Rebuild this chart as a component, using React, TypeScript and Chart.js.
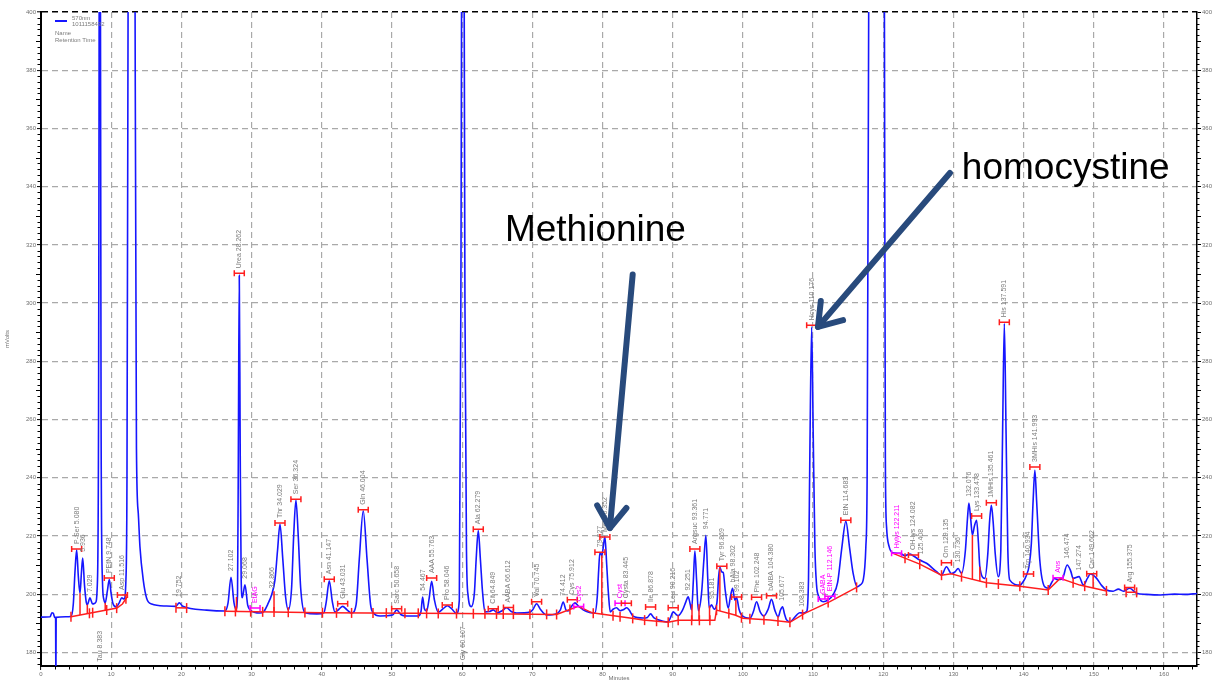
import React, { useEffect, useRef } from 'react';
import { Chart, registerables } from 'chart.js';

Chart.register(...registerables);

const FONT = '"Liberation Sans", Arial, Helvetica, sans-serif';
const BLUE = '#1616ff';
const RED = '#ff1e1e';
const MAGENTA = '#ff00ff';
const GRID = '#a9a9a9';
const LABEL_GREY = '#7c7c7c';
const AXIS_TXT = '#6f6f6f';
const NAVY = '#284a7c';

// ---- chromatogram trace (retention time in minutes, signal in mVolts) ----
const traceTime = [
  0, 1.3, 1.55, 1.75, 1.95, 2.08, 2.12, 2.16, 3.5, 4.27,
  4.6, 4.85, 5.08, 5.32, 5.56, 5.75, 5.94, 6.2, 6.45, 6.6,
  6.98, 7.35, 7.75, 8.05, 8.2, 8.38, 8.56, 8.75, 8.95, 9.15,
  9.45, 9.73, 10.0, 10.25, 10.7, 11.1, 11.5, 11.85, 12.1, 12.25,
  12.45, 12.9, 13.35, 13.6, 13.86, 14.1, 14.57, 15.05, 15.77, 17.9,
  19.2, 19.7, 20.2, 23.6, 26.2, 26.65, 27.07, 27.5, 27.78, 28.0,
  28.12, 28.25, 28.38, 28.52, 28.68, 29.06, 29.45, 29.8, 31.2, 31.67,
  32.3, 32.86, 33.33, 33.7, 34.05, 34.45, 34.85, 35.23, 35.7, 36.0,
  36.32, 36.65, 37.0, 37.6, 39.3, 40.3, 40.65, 41.07, 41.5, 41.88,
  42.45, 42.98, 43.6, 44.25, 44.9, 45.35, 45.91, 46.45, 46.95, 47.34,
  48.3, 50.1, 50.67, 51.3, 52.1, 53.75, 54.15, 54.37, 54.62, 54.94,
  55.3, 55.66, 56.05, 56.6, 57.3, 57.88, 58.5, 59.2, 59.6, 59.82,
  60.1, 60.4, 60.62, 60.85, 61.3, 61.75, 62.0, 62.3, 62.6, 62.9,
  63.25, 63.9, 64.43, 65.0, 65.7, 66.34, 67.0, 67.76, 69.66, 70.1,
  70.61, 71.2, 72.04, 73.46, 74.0, 74.4, 74.8, 75.1, 75.6, 76.07,
  76.6, 77.73, 78.9, 79.25, 79.45, 79.63, 79.9, 80.1, 80.34, 80.6,
  80.85, 81.1, 81.5, 82.0, 82.5, 82.95, 83.45, 83.8, 84.37, 85.8,
  86.4, 86.85, 87.3, 87.7, 89.36, 89.7, 90.07, 90.5, 90.78, 91.4,
  91.9, 92.2, 92.5, 92.69, 92.95, 93.16, 93.4, 93.65, 94.1, 94.45,
  94.73, 95.0, 95.2, 95.54, 95.9, 96.3, 96.55, 96.72, 97.0, 97.2,
  97.5, 97.91, 98.25, 98.53, 98.86, 99.1, 99.45, 99.8, 101.0, 101.5,
  101.95, 102.45, 102.99, 103.6, 104.08, 104.55, 105.03, 105.35, 105.65, 105.95,
  106.2, 106.7, 107.65, 108.1, 108.5, 109.07, 109.35, 109.55, 109.8, 110.02,
  110.26, 110.5, 110.73, 111.44, 112.15, 112.86, 113.5, 114.1, 114.67, 115.2,
  115.71, 116.28, 116.8, 117.14, 117.52, 117.7, 117.95, 118.5, 119.1, 119.7,
  120.15, 120.3, 120.47, 120.84, 121.4, 122.36, 123.1, 123.8, 124.26, 125.2,
  126.17, 127.6, 128.3, 129.0, 129.7, 130.2, 130.67, 131.15, 131.7, 132.0,
  132.2, 132.45, 132.7, 133.0, 133.3, 133.55, 133.76, 134.47, 134.9, 135.15,
  135.4, 135.65, 135.95, 136.37, 136.75, 137.0, 137.25, 137.5, 137.75, 138.03,
  139.46, 140.0, 140.4, 140.8, 141.1, 141.35, 141.6, 141.85, 142.3, 143.0,
  143.5, 144.0, 144.4, 144.8, 145.5, 146.2, 146.7, 147.05, 147.9, 148.5,
  149.1, 149.5, 149.9, 150.4, 151.1, 151.8, 152.75, 153.5, 154.2, 155.1,
  156.1, 157.5, 159.5, 161.5, 163.0, 164.7,
];
const traceMv = [
  192.1, 192.2, 193.6, 193.4, 192.0, 192.0, 170.0, 192.0, 192.2, 192.3,
  196.5, 208, 215.2, 206, 200.3, 207, 212.4, 203, 197.2, 196.4,
  198.7, 196.6, 197.0, 205, 260, 520, 260, 205, 198.2, 197.0,
  201, 205.0, 200, 196.8, 195.6, 196.8, 198.7, 198.3, 205, 240,
  450, 820, 450, 250, 227.8, 216.2, 204.8, 198.6, 196.6, 195.9,
  195.8, 197.0, 195.8, 194.5, 194.2, 197, 205.8, 197, 194.8, 200,
  250, 309.5, 250, 205, 198.8, 203.2, 196.2, 194.5, 193.5, 193.8,
  196.5, 199.8, 204.8, 215, 224.0, 212, 199, 194.6, 202, 220,
  232.3, 220, 202, 193.6, 193.2, 193.6, 197.5, 204.6, 197.5, 193.8,
  194.8, 195.8, 194.6, 193.5, 196.5, 212, 228.6, 212, 196.5, 193.6,
  192.5, 192.8, 194.6, 192.9, 192.5, 192.5, 194.2, 199.0, 195.0, 194.2,
  198.5, 204.4, 198.0, 193.8, 195.0, 196.0, 195.0, 193.3, 198, 300,
  560, 300, 215, 199.5, 195.7, 200.5, 212, 221.8, 212, 201,
  193.9, 194.0, 194.6, 193.6, 194.3, 195.3, 194.0, 193.5, 193.8, 194.8,
  196.7, 194.6, 192.8, 193.3, 194.6, 197.3, 194.5, 194.2, 195.8, 197.0,
  195.8, 194.0, 193.5, 199, 208, 214.3, 213.3, 216, 219.8, 210,
  200, 193.9, 194.8, 195.3, 194.3, 194.6, 195.3, 194.5, 192.4, 191.8,
  192.0, 193.2, 191.9, 191.4, 190.5, 192, 193.9, 193.0, 192.6, 194.5,
  197.5, 199.1, 196.5, 194.6, 205, 214.8, 205, 194.3, 200, 212,
  220.2, 205, 195.2, 196.3, 194.8, 197, 206, 209.2, 207.6, 207.4,
  201, 195.2, 199.5, 202.0, 197.9, 198.8, 194.8, 192.8, 191.7, 194.0,
  197.4, 194.0, 192.5, 194.8, 198.2, 194.5, 192.2, 194.5, 195.6, 193.0,
  191.2, 190.5, 192.8, 193.6, 193.5, 194.0, 205, 250, 291.8, 255,
  216.3, 203, 199.7, 197.4, 198.0, 199.8, 204, 216, 225.0, 216,
  207.1, 202.5, 203.3, 204.8, 216.3, 239.2, 420, 760, 850, 760,
  420, 246, 223.1, 216.3, 214.2, 214.0, 213.2, 213.8, 213.2, 211.7,
  210.6, 207.7, 206.5, 209.4, 207.1, 207.6, 208.8, 207.1, 215, 226,
  231.3, 226, 220.3, 223.5, 225.4, 218, 209.4, 205.4, 214, 225,
  230.5, 225, 214, 206.0, 215, 255, 293.0, 255, 215, 204.8,
  203.1, 204.5, 206.5, 210, 217.4, 232, 242.5, 232, 211.7, 202.5,
  202.0, 204, 205.4, 205.0, 205.2, 210.0, 208, 205.4, 206.0, 203.1,
  205.5, 206.9, 206.5, 205.4, 203, 201.4, 201.0, 201.7, 201.0, 202.0,
  200.3, 199.9, 199.7, 200.0, 199.9, 200.2,
];

// ---- integration baseline (null = break between baseline segments) ----
const baseTime = [
  4.27, 10.83, 11.6, 12.25, 15,
  19.23, 20.75, 23,
  26.2, 40, 60, 73.46, 76.54, 78.68, 79.0, 83.9, 85.8, 89.36, 90.78, 96.0,
  96.25, 98.86, 100.0, 103.85, 106.7, 108.8, 112.4, 116.2, 118,
  121.4, 125.2, 128.3, 129.7, 131.15, 134.7, 139.46, 143.5, 145.2, 148.0, 151.8, 153,
  154.6, 156.1,
];
const baseMv = [
  192.2, 195.2, 196.6, 199.0, null,
  195.3, 195.2, null,
  194.1, 193.6, 193.3, 193.0, 195.8, 193.4, 193.4, 191.8, 191.1, 190.3, 191.0, 191.0,
  194.5, 192.8, 191.7, 191.1, 190.3, 193.4, 197.4, 202.3, null,
  214.0, 210.3, 206.5, 207.0, 206.0, 203.9, 202.7, 201.4, 205.4, 203.1, 201.1, null,
  200.6, 200.6,
];

// peak start / end marks on the baseline (minutes)
const tickTime = [
  4.27, 6.9, 7.36, 9.36, 10.78, 12.1, 19.23, 20.75, 26.2, 27.7,
  29.87, 31.58, 33.2, 35.23, 37.6, 40.1, 42.1, 44.25, 47.3, 49.2,
  51.85, 53.75, 54.94, 56.6, 59.2, 61.6, 63.25, 64.9, 65.86, 67.3,
  69.66, 72.04, 73.46, 75.36, 78.68, 81.5, 82.5, 84.3, 86.0, 87.7,
  89.36, 90.78, 92.7, 93.8, 95.3, 96.25, 98.0, 99.8, 101.0, 103.0,
  105.0, 106.7, 108.5, 112.15, 116.2, 123.1, 125.2, 128.3, 131.15, 134.7,
  136.4, 139.46, 143.5, 147.05, 148.7, 151.8, 154.6, 156.1,
];

// perpendicular drop lines (time, top of line in mV)
const dropTime = [5.56, 6.6, 9.15, 27.85, 33.2, 79.9, 92.75, 93.75, 95.25, 96.72, 99.0, 132.7, 133.76, 149.9];
const dropTop = [200.3, 196.4, 197.0, 199.0, 201.0, 213.3, 196.5, 196.5, 196.0, 209.0, 198.0, 220.3, 209.4, 206.5];

// identified peaks: apex marker and label
const peakTime = [
  5.08, 5.94, 6.98, 8.38, 9.73, 11.6, 19.7, 27.07, 28.25, 29.06,
  30.5, 32.86, 34.05, 36.32, 41.07, 42.98, 45.91, 50.67, 54.37, 55.66,
  57.88, 60.1, 62.3, 64.43, 66.6, 70.61, 74.4, 75.7, 76.6, 79.63,
  80.34, 82.5, 83.4, 86.85, 90.07, 92.2, 93.16, 94.73, 95.54, 97.0,
  98.53, 99.1, 101.95, 104.08, 105.65, 108.5, 109.8, 111.44, 112.4, 114.67,
  121.9, 124.3, 125.4, 129.0, 130.67, 132.2, 133.3, 135.4, 137.25, 140.7,
  141.6, 144.9, 146.2, 147.9, 149.7, 155.1,
];
const peakMv = [
  215.5, 212.8, 199.0, 176.8, 205.5, 199.7, 197.3, 206.2, 310.2, 203.6,
  195.2, 200.2, 224.4, 232.6, 205.1, 196.7, 229.0, 195.0, 199.4, 205.5,
  196.3, 177.3, 222.3, 195.0, 195.4, 197.4, 197.7, 198.1, 195.7, 214.4,
  219.6, 196.9, 196.9, 195.6, 195.3, 199.5, 215.5, 220.6, 196.6, 209.6,
  202.3, 199.0, 198.9, 199.4, 196.0, 193.9, 292.4, 198.3, 199.3, 225.4,
  214.0, 213.4, 212.0, 210.8, 209.2, 231.7, 226.8, 231.4, 293.4, 206.9,
  243.7, 205.6, 210.4, 206.4, 207.0, 202.3,
];
const peakName = [
  'P-Ser 5.080', '5.936', '7.029', 'Tau 8.383', 'PEtN 9.748', 'Asp 11.516', '19.752', '27.102', 'Urea 28.262', '29.068',
  'EtAG', '32.866', 'Thr 34.029', 'Ser 36.324', 'Asn 41.147', 'Glu 43.031', 'Gln 46.004', 'Sarc 50.658', '54.467', 'AAA 55.763',
  'Pro 58.046', 'Gly 60.107', 'Ala 62.279', 'Cit 64.849', 'AABA 66.612', 'Val 70.745', '74.412', 'Cys 75.912', 'Cys2', '79.627',
  'Met 80.352', 'Cyst', 'Cysta 83.445', 'Ile 86.878', 'Leu 90.216', '92.251', 'Argsuc 93.361', '94.771', '95.181', 'Tyr 96.869',
  'bAla 98.302', '99.102', 'Phe 102.248', 'bAIBA 104.380', '105.677', '108.383', 'Hcys 110.176', 'GABA', 'EtN-P 112.146', 'EtN 114.683',
  'Hylys 122.211', 'OH-lys 124.082', '125.408', 'Orn 129.135', '130.736', '132.076', 'Lys 133.478', '1MHis 135.461', 'His 137.591', 'Trp 140.934',
  '3MHis 141.993', 'Ans', '146.474', '147.274', 'Car 149.662', 'Arg 155.375',
];
// r = red apex bar, m = magenta bar & label, n = label only, b = label under the trace
const peakKind = ('rnnbrrnnrn' + 'mnrrrrrrnr' + 'rbrrrrnrmr' + 'rmrrrnrnnr' + 'nrrrnnrmmr' + 'mrnrnnrrrr' + 'rmnnrr').split('');

// callouts
const noteText = ['Methionine', 'homocystine'];
const noteTime = [66.1, 131.2];
const noteMv = [321.3, 342.5];
const arrowFromTime = [84.3, 129.5];
const arrowFromMv = [309.8, 344.7];
const arrowToTime = [81.05, 110.7];
const arrowToMv = [222.7, 291.8];

// legend
const legendLines = ['570nm', '1011158432', 'Name', 'Retention Time'];

// axes
const xTicks = [0, 10, 20, 30, 40, 50, 60, 70, 80, 90, 100, 110, 120, 130, 140, 150, 160];
const yTicks = [180, 200, 220, 240, 260, 280, 300, 320, 340, 360, 380, 400];
const X_MIN = 0;
const X_MAX = 164.7;
const Y_MIN = 175.3;
const Y_MAX = 400;

function interpMeta(meta: any, px: number): number | null {
  const pts = meta.data;
  for (let i = 0; i < pts.length - 1; i++) {
    const a = pts[i];
    const b = pts[i + 1];
    if (a.skip || b.skip) continue;
    if (px >= a.x - 0.01 && px <= b.x + 0.01) {
      const f = b.x === a.x ? 0 : (px - a.x) / (b.x - a.x);
      return a.y + (b.y - a.y) * Math.max(0, Math.min(1, f));
    }
  }
  return null;
}

function drawArrow(ctx: CanvasRenderingContext2D, x1: number, y1: number, x2: number, y2: number) {
  ctx.save();
  ctx.strokeStyle = NAVY;
  ctx.lineWidth = 6;
  ctx.lineCap = 'round';
  ctx.lineJoin = 'round';
  ctx.beginPath();
  ctx.moveTo(x1, y1);
  ctx.lineTo(x2, y2);
  ctx.stroke();
  const ang = Math.atan2(y1 - y2, x1 - x2);
  const L = 26;
  const spread = 0.6;
  ctx.beginPath();
  ctx.moveTo(x2 + L * Math.cos(ang + spread), y2 + L * Math.sin(ang + spread));
  ctx.lineTo(x2, y2);
  ctx.lineTo(x2 + L * Math.cos(ang - spread), y2 + L * Math.sin(ang - spread));
  ctx.stroke();
  ctx.restore();
}

const chromPlugin = {
  id: 'chromPlugin',
  afterDatasetsDraw(chart: any) {
    const { ctx, chartArea: ca, scales } = chart;
    const xs = scales.x;
    const ys = scales.y;
    const traceMeta = chart.getDatasetMeta(0);
    const baseMeta = chart.getDatasetMeta(1);
    const baseY = (t: number) => {
      const px = xs.getPixelForValue(t);
      let y = interpMeta(baseMeta, px);
      if (y == null) y = interpMeta(traceMeta, px);
      return y == null ? ys.getPixelForValue(193) : y;
    };
    ctx.save();
    // drop lines
    ctx.strokeStyle = RED;
    ctx.lineWidth = 1.5;
    dropTime.forEach((t, i) => {
      const x = xs.getPixelForValue(t);
      ctx.beginPath();
      ctx.moveTo(x, baseY(t));
      ctx.lineTo(x, ys.getPixelForValue(dropTop[i]));
      ctx.stroke();
    });
    // baseline ticks
    tickTime.forEach((t) => {
      const x = xs.getPixelForValue(t);
      const y = baseY(t);
      ctx.beginPath();
      ctx.moveTo(x, y - 5);
      ctx.lineTo(x, y + 5);
      ctx.stroke();
    });
    // apex bars and labels
    peakTime.forEach((t, i) => {
      const kind = peakKind[i];
      const x = xs.getPixelForValue(t);
      const y = ys.getPixelForValue(peakMv[i]);
      if (kind === 'r' || kind === 'm') {
        ctx.strokeStyle = kind === 'm' ? MAGENTA : RED;
        ctx.lineWidth = 1.5;
        ctx.beginPath();
        ctx.moveTo(x - 5, y);
        ctx.lineTo(x + 5, y);
        ctx.moveTo(x - 5, y - 3);
        ctx.lineTo(x - 5, y + 3);
        ctx.moveTo(x + 5, y - 3);
        ctx.lineTo(x + 5, y + 3);
        ctx.stroke();
      }
      const start = kind === 'b' ? y : y - 5;
      ctx.save();
      ctx.translate(x, start);
      ctx.rotate(-Math.PI / 2);
      ctx.fillStyle = kind === 'm' ? MAGENTA : LABEL_GREY;
      ctx.font = `7px ${FONT}`;
      ctx.textAlign = 'left';
      ctx.textBaseline = 'middle';
      ctx.fillText(peakName[i], 0, 0);
      ctx.restore();
    });
    // legend
    const lx = ca.left + 14;
    const ly = ca.top + 9;
    ctx.strokeStyle = BLUE;
    ctx.lineWidth = 2;
    ctx.beginPath();
    ctx.moveTo(lx, ly);
    ctx.lineTo(lx + 12, ly);
    ctx.stroke();
    ctx.fillStyle = LABEL_GREY;
    ctx.font = `6px ${FONT}`;
    ctx.textAlign = 'left';
    ctx.textBaseline = 'middle';
    ctx.fillText(legendLines[0], lx + 17, ly - 3);
    ctx.fillText(legendLines[1], lx + 17, ly + 3);
    ctx.fillText(legendLines[2], lx, ly + 12);
    ctx.fillText(legendLines[3], lx, ly + 19);
    // callout arrows and texts
    arrowFromTime.forEach((t, i) => {
      drawArrow(
        ctx,
        xs.getPixelForValue(t),
        ys.getPixelForValue(arrowFromMv[i]),
        xs.getPixelForValue(arrowToTime[i]),
        ys.getPixelForValue(arrowToMv[i])
      );
    });
    ctx.fillStyle = '#000';
    ctx.font = `37px ${FONT}`;
    ctx.textAlign = 'left';
    ctx.textBaseline = 'alphabetic';
    noteText.forEach((s, i) => {
      ctx.fillText(s, xs.getPixelForValue(noteTime[i]), ys.getPixelForValue(noteMv[i]));
    });
    ctx.restore();
  },
  afterDraw(chart: any) {
    const { ctx, chartArea: ca, scales } = chart;
    const xs = scales.x;
    const ys = scales.y;
    ctx.save();
    ctx.strokeStyle = '#000';
    ctx.lineWidth = 1;
    for (let v = 176; v <= 400; v += 2) {
      if (v % 20 === 0) continue;
      const y = Math.round(ys.getPixelForValue(v)) + 0.5;
      const len = v % 10 === 0 ? 4 : 2.5;
      ctx.beginPath();
      ctx.moveTo(ca.left - 1, y);
      ctx.lineTo(ca.left - 1 - len, y);
      ctx.moveTo(ca.right, y);
      ctx.lineTo(ca.right + len, y);
      ctx.stroke();
    }
    for (let t = 2; t <= 164; t += 2) {
      if (t % 10 === 0) continue;
      const x = Math.round(xs.getPixelForValue(t)) + 0.5;
      ctx.beginPath();
      ctx.moveTo(x, ca.bottom + 1);
      ctx.lineTo(x, ca.bottom + 3.5);
      ctx.stroke();
    }
    ctx.restore();
  },
};

export default function App() {
  const ref = useRef<HTMLCanvasElement>(null);
  useEffect(() => {
    document.body.style.margin = '0';
    Chart.defaults.font.family = FONT;
    const canvas = ref.current;
    if (!canvas) return;
    const tickFont = { size: 6, family: FONT };
    const chart = new Chart(canvas, {
      type: 'line',
      data: {
        datasets: [
          {
            label: '570nm',
            data: traceTime.map((t, i) => ({ x: t, y: traceMv[i] })),
            borderColor: BLUE,
            borderWidth: 1.6,
            pointRadius: 0,
            cubicInterpolationMode: 'monotone',
            fill: false,
            order: 1,
            yAxisID: 'y',
          },
          {
            label: 'baseline',
            data: baseTime.map((t, i) => ({ x: t, y: baseMv[i] })),
            borderColor: RED,
            borderWidth: 1.5,
            pointRadius: 0,
            tension: 0,
            spanGaps: false,
            fill: false,
            order: 0,
            yAxisID: 'y',
          },
        ],
      } as any,
      options: {
        responsive: false,
        animation: false,
        devicePixelRatio: 1,
        events: [],
        layout: { padding: { top: 12, left: 0, right: 0, bottom: 0 } },
        plugins: { legend: { display: false }, tooltip: { enabled: false } },
        scales: {
          x: {
            type: 'linear',
            min: X_MIN,
            max: X_MAX,
            afterBuildTicks: (s: any) => {
              s.ticks = xTicks.map((v) => ({ value: v }));
            },
            afterFit: (s: any) => {
              s.height = 16;
            },
            grid: { color: GRID, lineWidth: 1.2, tickLength: 4, tickColor: '#000', tickWidth: 1 },
            border: { color: '#000', width: 2, dash: [6, 4] },
            ticks: { font: tickFont, color: AXIS_TXT, padding: 1, maxRotation: 0, autoSkip: false },
            title: { display: true, text: 'Minutes', font: tickFont, color: AXIS_TXT, padding: 0 },
          },
          y: {
            type: 'linear',
            position: 'left',
            min: Y_MIN,
            max: Y_MAX,
            afterBuildTicks: (s: any) => {
              s.ticks = yTicks.map((v) => ({ value: v }));
            },
            afterFit: (s: any) => {
              s.width = 41;
            },
            grid: {
              color: (c: any) => (c.tick && c.tick.value === 400 ? '#000' : GRID),
              lineWidth: (c: any) => (c.tick && c.tick.value === 400 ? 1.6 : 1.2),
              tickLength: 4,
              tickColor: '#000',
              tickWidth: 1,
            },
            border: { color: '#000', width: 2, dash: [6, 4] },
            ticks: { font: tickFont, color: AXIS_TXT, padding: 1, autoSkip: false },
            title: { display: true, text: 'mVolts', font: tickFont, color: AXIS_TXT, padding: { top: 4, bottom: 0 } },
          },
          yR: {
            type: 'linear',
            position: 'right',
            min: Y_MIN,
            max: Y_MAX,
            afterBuildTicks: (s: any) => {
              s.ticks = yTicks.map((v) => ({ value: v }));
            },
            afterFit: (s: any) => {
              s.width = 29;
            },
            grid: { drawOnChartArea: false, tickLength: 4, tickColor: '#000', tickWidth: 1 },
            border: { color: '#000', width: 1.5 },
            ticks: { font: tickFont, color: AXIS_TXT, padding: 1, autoSkip: false },
          },
        },
      } as any,
      plugins: [chromPlugin],
    });
    return () => chart.destroy();
  }, []);
  return (
    <div style={{ width: 1226, height: 682, position: 'relative', background: '#fff' }}>
      <canvas ref={ref} width={1226} height={682} style={{ display: 'block', width: 1226, height: 682 }} />
    </div>
  );
}
